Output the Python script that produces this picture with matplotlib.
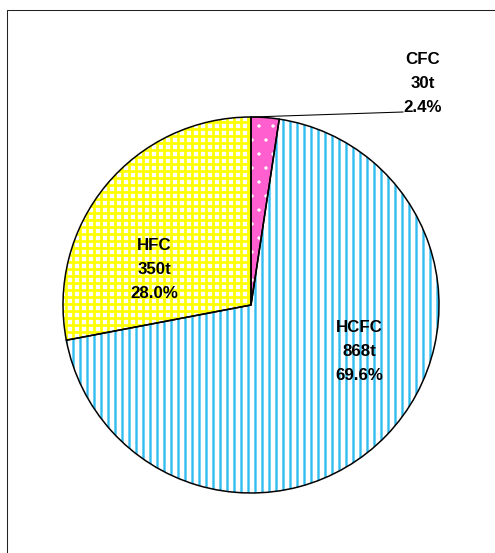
#!/usr/bin/python

### packages/modules ###
import matplotlib
matplotlib.use('Agg')
import matplotlib.pyplot as plt

### data ###
gases = ['CFC', 'HCFC', 'HFC']
tonnes = [30, 868, 350]
shares = [2.4, 69.6, 28.0]

### plotting parameters ###
dpi = 84
face_cols = ['#ff5fcf', 'white', 'white']
hatch_cols = ['white', '#2fbcf0', '#ffff00']
hatches = ['.', '||', '++']
hatch_lw = [0.4, 2.0, 2.3]
label_pos = [(423, 470), (359, 201), (154, 283)]
cx, cy, rad = 251, 248, 188
fs = 14.5

plt.rcParams['hatch.linewidth'] = 2.0
plt.rcParams['font.family'] = ['Liberation Sans', 'DejaVu Sans']

fig = plt.figure(figsize=(495 / dpi, 553 / dpi), dpi=dpi)
ax = fig.add_axes([0, 0, 1, 1])

# hatched fill, no outline
wedges, _ = ax.pie(shares, colors=face_cols, startangle=90, counterclock=False,
                   center=(cx, cy), radius=rad, wedgeprops=dict(linewidth=0))
for w, h, hc, hl in zip(wedges, hatches, hatch_cols, hatch_lw):
	w.set_hatch(h)
	w.set_edgecolor(hc)
	if hasattr(w, 'set_hatch_linewidth'):
		w.set_hatch_linewidth(hl)

# black outlines on top
ax.pie(shares, startangle=90, counterclock=False, center=(cx, cy), radius=rad,
       wedgeprops=dict(fill=False, edgecolor='black', linewidth=1.3))

# labels
for g, t, s, (x, y) in zip(gases, tonnes, shares, label_pos):
	ax.text(x, y, '%s\n%dt\n%.1f%%' % (g, t, s), ha='center', va='center',
	        fontsize=fs, fontweight='bold', linespacing=1.75)

# leader line for the small slice
ax.plot([252, 403], [436, 441], color='black', linewidth=0.9)

# outer frame
ax.plot([7, 7, 495], [0, 543, 543], color='#222222', linewidth=0.9, clip_on=False)

ax.set_xlim(0, 495)
ax.set_ylim(0, 553)
ax.set_aspect('auto')
ax.axis('off')

plt.savefig('out.png', dpi=dpi)
plt.close()
